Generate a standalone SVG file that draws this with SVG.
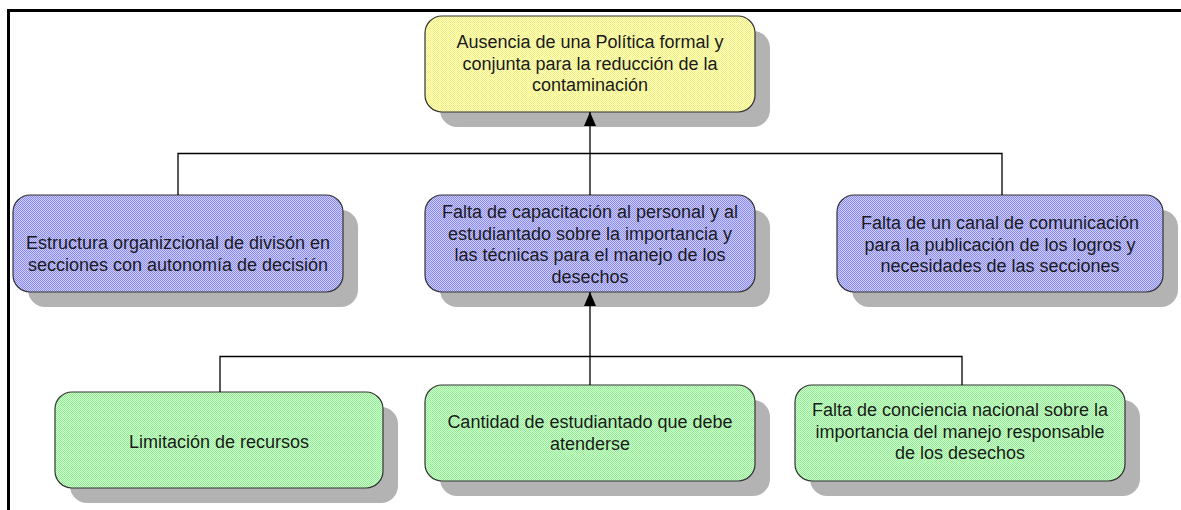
<svg xmlns="http://www.w3.org/2000/svg" width="1181" height="510" viewBox="0 0 1181 510">
<defs>
<pattern id="pY" width="2" height="2" patternUnits="userSpaceOnUse"><rect width="2" height="2" fill="#ffffc8"/><rect width="1" height="1" fill="#f0f07a"/><rect x="1" y="1" width="1" height="1" fill="#f0f07a"/></pattern>
<pattern id="pB" width="2" height="2" patternUnits="userSpaceOnUse"><rect width="2" height="2" fill="#d0d0ff"/><rect width="1" height="1" fill="#8888f0"/><rect x="1" y="1" width="1" height="1" fill="#8888f0"/></pattern>
<pattern id="pG" width="2" height="2" patternUnits="userSpaceOnUse"><rect width="2" height="2" fill="#d4ffd4"/><rect width="1" height="1" fill="#8ef08e"/><rect x="1" y="1" width="1" height="1" fill="#8ef08e"/></pattern>
<marker id="arr" viewBox="0 0 14 12" refX="14" refY="6" markerWidth="14" markerHeight="12" markerUnits="userSpaceOnUse" orient="auto"><path d="M0,0 L14,6 L0,12 Z" fill="#000"/></marker>
</defs>
<style>
.sh{fill:#b3b3b3}
.bx{stroke:#333;stroke-width:1.2}
.t{font-family:"Liberation Sans",Arial,sans-serif;font-size:18px;fill:#1a1a1a;text-anchor:middle}
.c{stroke:#000;stroke-width:1.3;fill:none}
</style>
<rect width="1181" height="510" fill="#fff"/>
<g id="frame">
<line x1="7" y1="10.5" x2="1181" y2="10.5" stroke="#000" stroke-width="3"/>
<line x1="8.5" y1="9" x2="8.5" y2="510" stroke="#000" stroke-width="3"/>
</g>
<g id="n1">
<rect class="sh" x="440" y="31" width="330" height="96" rx="17"/>
<rect class="bx" x="425" y="16" width="330" height="96" rx="17" fill="url(#pY)"/>
<text class="t" x="590" y="48">Ausencia de una Política formal y</text>
<text class="t" x="590" y="69.5">conjunta para la reducción de la</text>
<text class="t" x="590" y="91">contaminación</text>
</g>
<g id="n2">
<rect class="sh" x="28" y="210" width="330" height="97" rx="17"/>
<rect class="bx" x="13" y="195" width="330" height="97" rx="17" fill="url(#pB)"/>
<text class="t" x="178" y="249">Estructura organizcional de divisón en</text>
<text class="t" x="178" y="271">secciones con autonomía de decisión</text>
</g>
<g id="n3">
<rect class="sh" x="440" y="210" width="330" height="97" rx="17"/>
<rect class="bx" x="425" y="195" width="330" height="97" rx="17" fill="url(#pB)"/>
<text class="t" x="590" y="218">Falta de capacitación al personal y al</text>
<text class="t" x="590" y="240">estudiantado sobre la importancia y</text>
<text class="t" x="590" y="261">las técnicas para el manejo de los</text>
<text class="t" x="590" y="283">desechos</text>
</g>
<g id="n4">
<rect class="sh" x="852" y="210" width="326" height="97" rx="17"/>
<rect class="bx" x="837" y="195" width="326" height="97" rx="17" fill="url(#pB)"/>
<text class="t" x="1000" y="229">Falta de un canal de comunicación</text>
<text class="t" x="1000" y="251">para la publicación de los logros y</text>
<text class="t" x="1000" y="272">necesidades de las secciones</text>
</g>
<g id="n5">
<rect class="sh" x="70" y="407" width="328" height="96" rx="17"/>
<rect class="bx" x="55" y="392" width="328" height="96" rx="17" fill="url(#pG)"/>
<text class="t" x="219" y="448">Limitación de recursos</text>
</g>
<g id="n6">
<rect class="sh" x="440" y="400" width="330" height="96" rx="17"/>
<rect class="bx" x="425" y="385" width="330" height="96" rx="17" fill="url(#pG)"/>
<text class="t" x="590" y="428">Cantidad de estudiantado que debe</text>
<text class="t" x="590" y="450">atenderse</text>
</g>
<g id="n7">
<rect class="sh" x="810" y="400" width="330" height="96" rx="17"/>
<rect class="bx" x="795" y="385" width="330" height="96" rx="17" fill="url(#pG)"/>
<text class="t" x="960" y="416">Falta de conciencia nacional sobre la</text>
<text class="t" x="960" y="438">importancia del manejo responsable</text>
<text class="t" x="960" y="459">de los desechos</text>
</g>
<g id="connectors">
<polyline class="c" points="178,195 178,153.5 1002,153.5 1002,195"/>
<line class="c" x1="590" y1="195" x2="590" y2="112" marker-end="url(#arr)"/>
<polyline class="c" points="220,392 220,356.5 962,356.5 962,385"/>
<line class="c" x1="590" y1="385" x2="590" y2="292" marker-end="url(#arr)"/>
</g>
</svg>
